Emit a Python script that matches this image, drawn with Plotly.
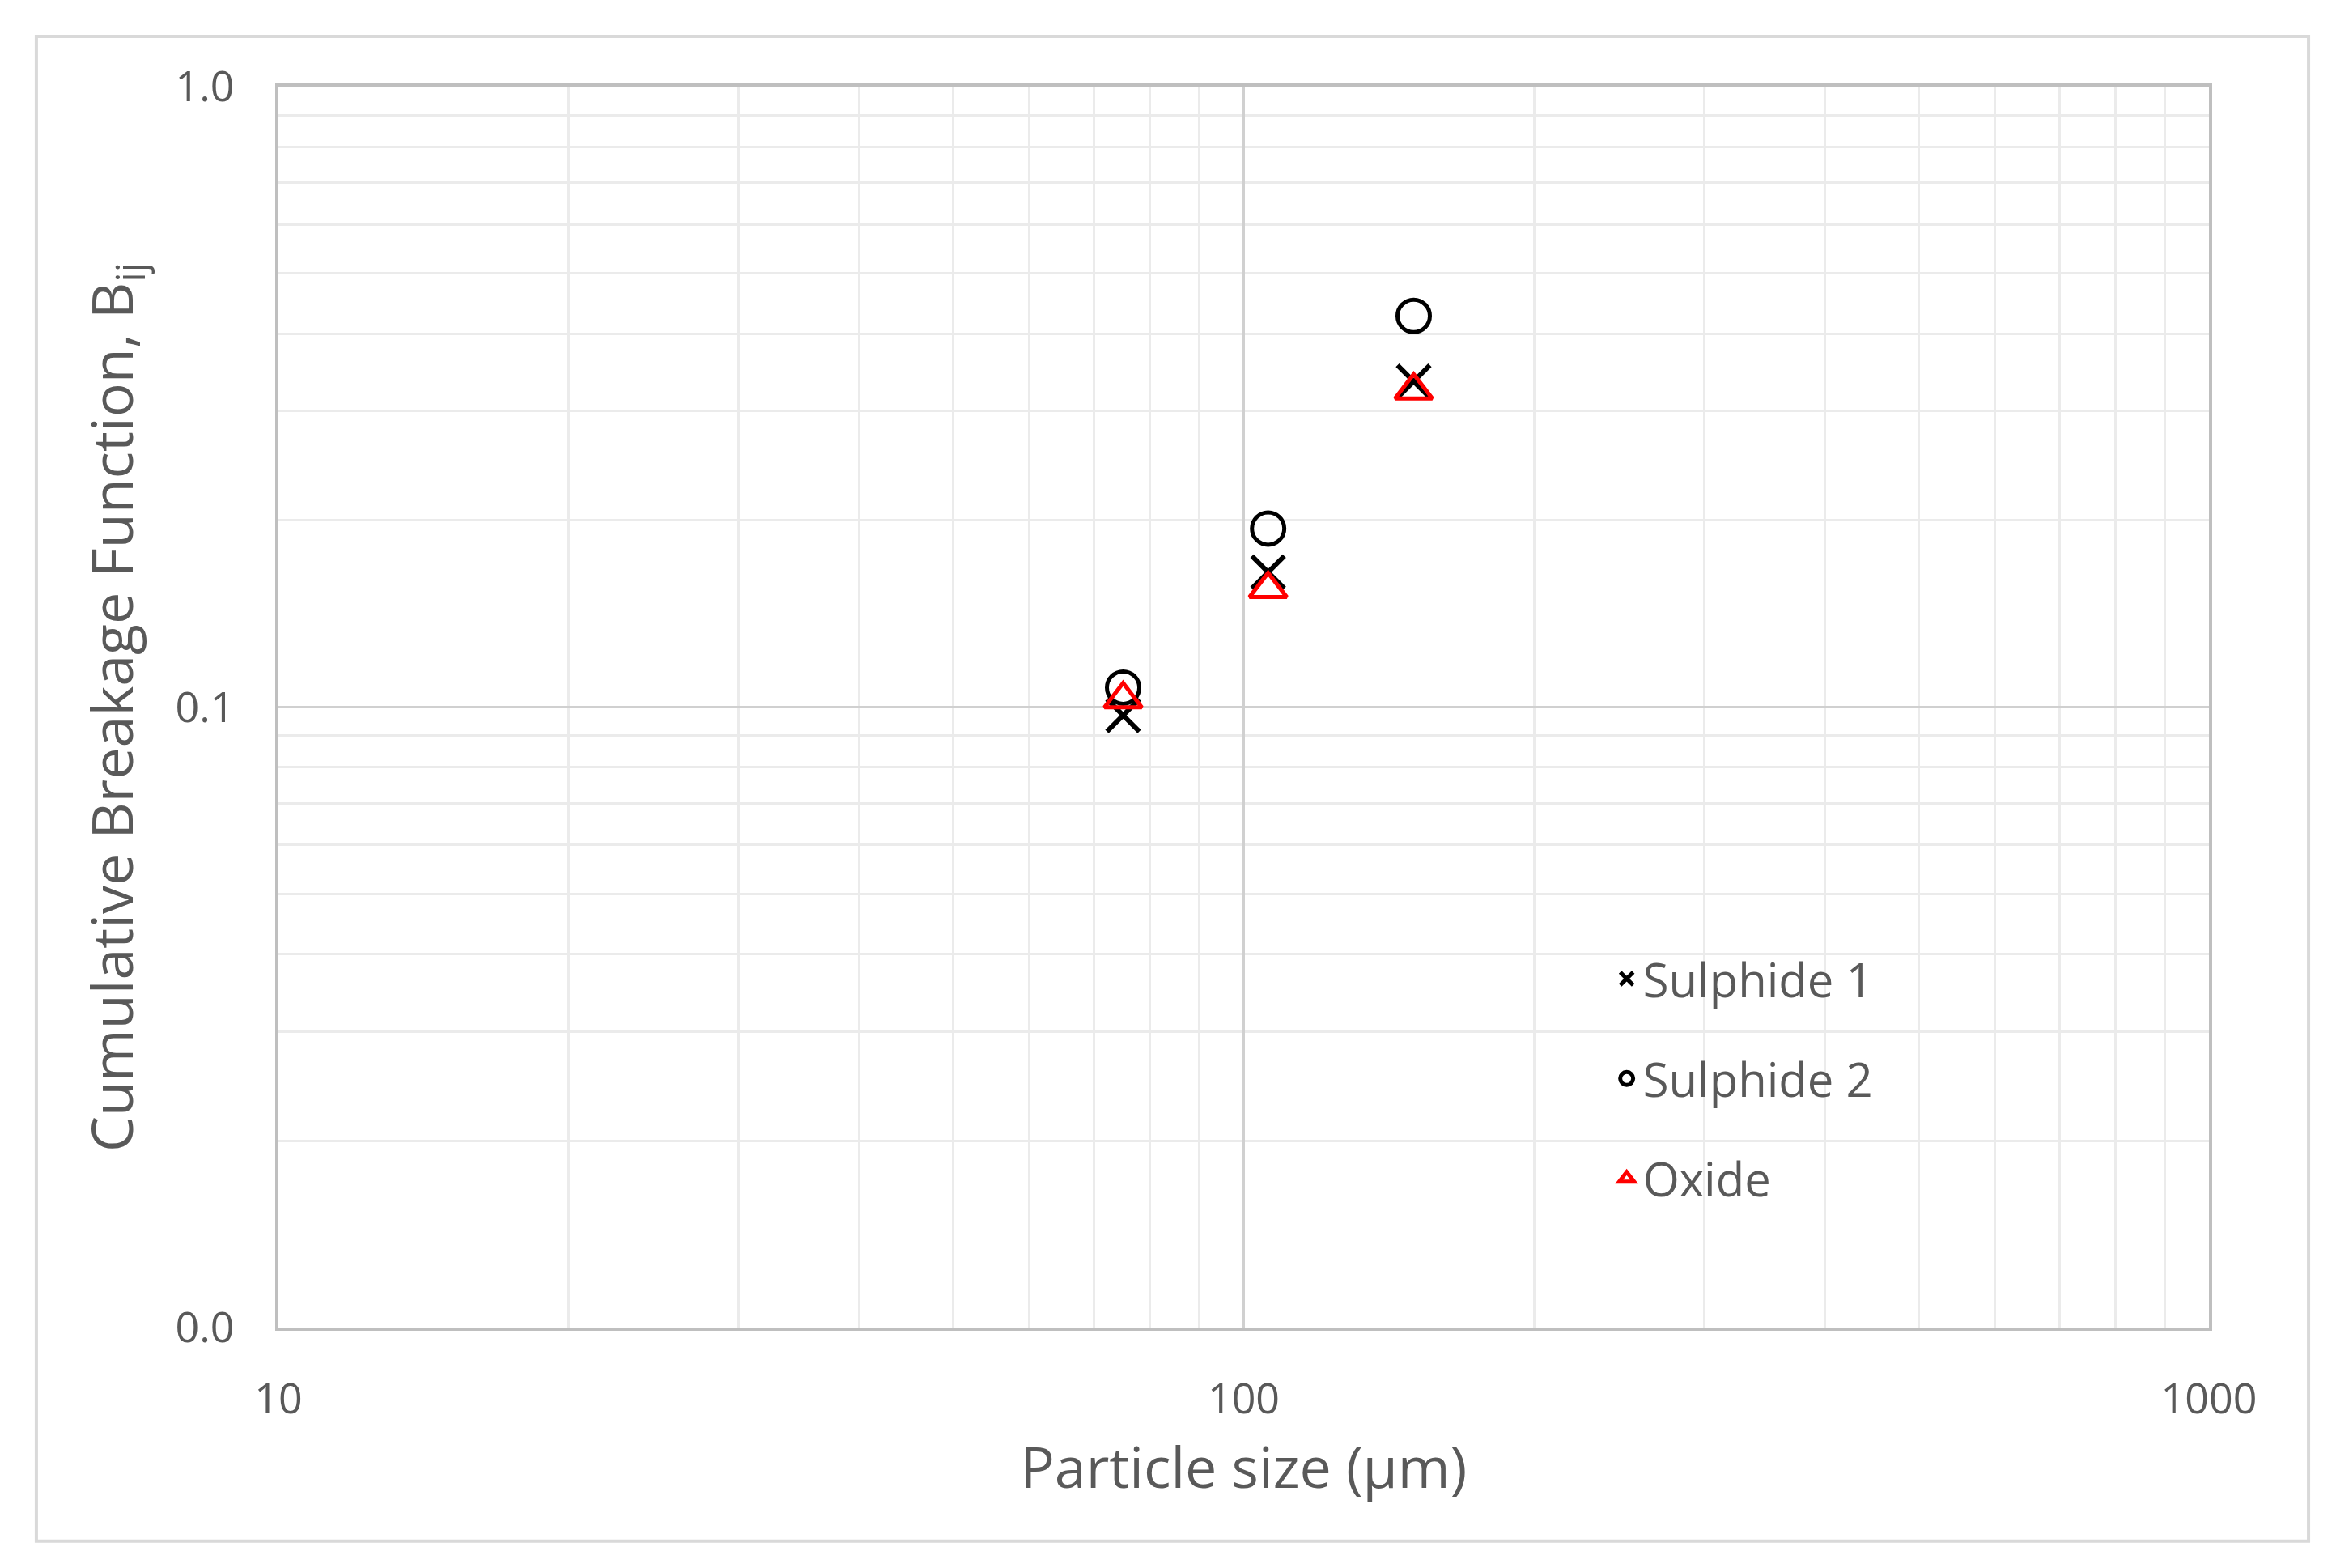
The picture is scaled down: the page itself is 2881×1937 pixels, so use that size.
import plotly.graph_objects as go

sizes = [75, 106, 150]
sulphide1 = [0.097, 0.165, 0.335]
sulphide2 = [0.1075, 0.194, 0.427]
oxide = [0.103, 0.155, 0.324]
ytickvals = [0.01, 0.1, 1]
yticktext = ["0.0", "0.1", "1.0"]
xtickvals = [10, 100, 1000]
xticktext = ["10", "100", "1000"]

grey = "#595959"
fig = go.Figure()
fig.add_trace(go.Scatter(x=sizes, y=sulphide1, mode="markers", name="Sulphide 1", legendgroup="a",
    marker=dict(symbol="x-thin-open", size=40, line=dict(color="black", width=6), color="black")))
fig.add_trace(go.Scatter(x=sizes, y=sulphide2, mode="markers", name="Sulphide 2", legendgroup="b",
    marker=dict(symbol="circle-open", size=40, line=dict(color="black", width=5), color="black")))
fig.add_trace(go.Scatter(x=sizes, y=oxide, mode="markers", name="Oxide", legendgroup="c",
    marker=dict(symbol="triangle-up-open", size=40, line=dict(color="red", width=5), color="red")))

axis_common = dict(showline=True, linecolor="#bfbfbf", linewidth=4, mirror=True,
                   gridcolor="#d0d0d0", gridwidth=3, zeroline=False, ticks="",
                   tickfont=dict(size=52, color=grey),
                   minor=dict(showgrid=True, dtick="D1", gridcolor="#ebebeb", gridwidth=3, ticks=""))
fig.update_xaxes(type="log", range=[1, 3], tickvals=xtickvals, ticktext=xticktext,
                 ticklabelstandoff=40,
                 title=dict(text="Particle size (μm)", font=dict(size=70, color=grey), standoff=30),
                 **axis_common)
fig.update_yaxes(type="log", range=[-2, 0], tickvals=ytickvals, ticktext=yticktext,
                 ticklabelstandoff=40,
                 title=dict(text="Cumulative Breakage Function, B<sub>ij</sub>", font=dict(size=70, color=grey), standoff=30),
                 **axis_common)
fig.add_shape(type="rect", xref="paper", yref="paper", x0=-0.1254, x1=1.0516, y0=-0.172, y1=1.0404,
              line=dict(color="#d9d9d9", width=4), layer="below")
fig.update_layout(width=2881, height=1937, plot_bgcolor="white", paper_bgcolor="white",
                  font=dict(family="Open Sans", color=grey),
                  margin=dict(l=336, r=160, t=99, b=305),
                  legend=dict(x=0.69, y=0.31, xanchor="left", yanchor="top",
                              font=dict(size=58, color=grey), bgcolor="rgba(0,0,0,0)",
                              itemwidth=30, tracegroupgap=45))
fig.write_html("out.html")
